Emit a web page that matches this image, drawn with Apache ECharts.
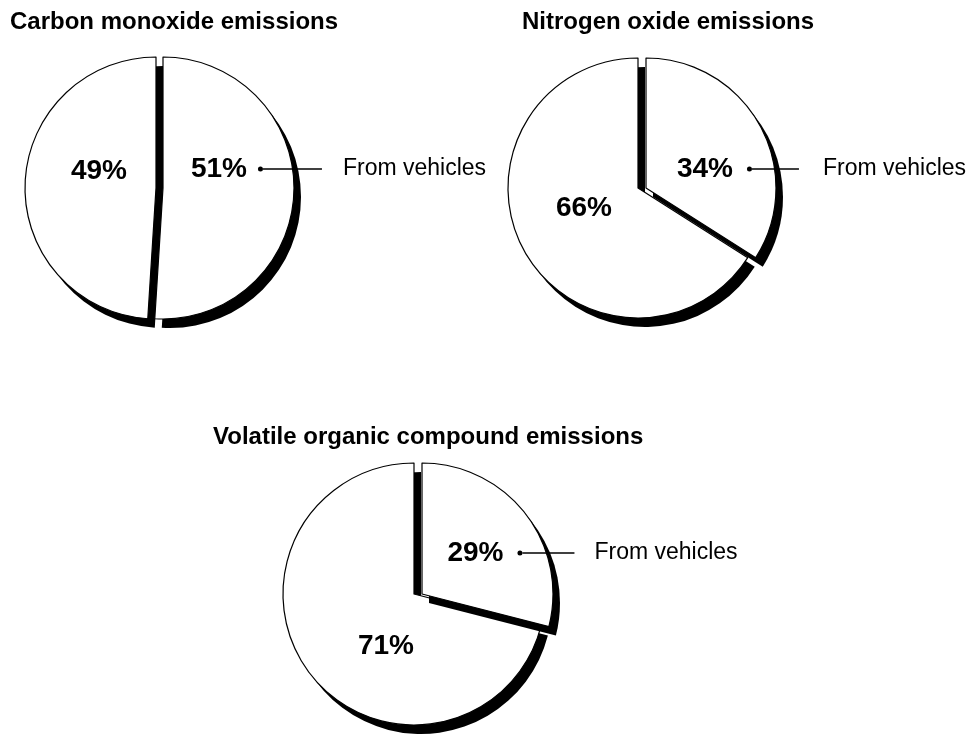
<!DOCTYPE html>
<html>
<head>
<meta charset="utf-8">
<script src="https://cdn.jsdelivr.net/npm/echarts@6/dist/echarts.min.js"></script>
<style>
  html, body { margin: 0; padding: 0; background: #fff; }
  #chart { width: 972px; height: 736px; }
</style>
</head>
<body>
<div id="chart"></div>
<script>
// ---- data ----
const chartTitles = ['Carbon monoxide emissions', 'Nitrogen oxide emissions', 'Volatile organic compound emissions'];
const vehicleShare = [51, 34, 29];
const otherShare = [49, 66, 71];
const vehicleLabel = 'From vehicles';

// ---- layout / style (not data) ----
const FONT = '"Liberation Sans", Arial, Helvetica, sans-serif';
const SHADOW_DX = 7, SHADOW_DY = 9;
const layouts = [
  { cx: 156, cy: 188, r: 131, explode: 7, titleLeft: 10, titleTop: 10,
    big: [-57, -17], veh: [175.5, -19], gap1: 11, line: 59, gap2: 21 },
  { cx: 638, cy: 188, r: 130, explode: 8, titleLeft: 522, titleTop: 10,
    big: [-54, 20], veh: [175.5, -19], gap1: 14, line: 47, gap2: 24 },
  { cx: 414, cy: 594, r: 131, explode: 8, titleLeft: 213, titleTop: 425,
    big: [-28, 52], veh: [170.5, -41], gap1: 14, line: 52, gap2: 20 }
];

const sliceStyle = { color: '#ffffff', borderColor: '#000000', borderWidth: 1.2 };
const shadowStyle = { color: '#000000', borderWidth: 0 };
const hiddenStyle = { color: 'rgba(0,0,0,0)', borderWidth: 0 };
const pctStyle = { fontFamily: FONT, fontWeight: 'bold', fontSize: 28, color: '#000' };

const series = [];
const titles = [];
layouts.forEach((L, i) => {
  titles.push({
    text: chartTitles[i], left: L.titleLeft, top: L.titleTop, padding: 0,
    textStyle: { fontFamily: FONT, fontWeight: 'bold', fontSize: 24, color: '#000' }
  });
  const common = {
    type: 'pie', radius: [0, L.r], startAngle: 90, clockwise: true,
    silent: true, animation: false, avoidLabelOverlap: false,
    emphasis: { disabled: true }, labelLine: { show: false }, label: { show: false }
  };
  // piece: 0 = vehicle slice, 1 = other slice
  function slice(piece, dx, dy, style, label, labelLayout) {
    const vals = [vehicleShare[i], otherShare[i]];
    return Object.assign({}, common, {
      center: [L.cx + dx, L.cy + dy],
      labelLayout: labelLayout || undefined,
      data: vals.map((v, k) => (k === piece
        ? { value: v, itemStyle: style, label: label || { show: false } }
        : { value: v, itemStyle: hiddenStyle, label: { show: false } }))
    });
  }
  const ex = L.explode;
  // other slice: shadow then face
  series.push(slice(1, SHADOW_DX, SHADOW_DY, shadowStyle));
  series.push(slice(1, 0, 0, sliceStyle,
    { show: true, position: 'center', formatter: otherShare[i] + '%', ...pctStyle },
    { dx: L.big[0], dy: L.big[1] }));
  // vehicle slice (pulled out to the right): shadow then face
  series.push(slice(0, ex + SHADOW_DX, SHADOW_DY, shadowStyle));
  series.push(slice(0, ex, 0, sliceStyle, {
      show: true, position: 'center',
      formatter: '{p|' + vehicleShare[i] + '%}{g1|}{d|}{l|}{g2|}{t|' + vehicleLabel + '}',
      rich: {
        p: pctStyle,
        g1: { width: L.gap1, height: 2 },
        d: { width: 5, height: 5, borderRadius: 2.5, backgroundColor: '#000' },
        l: { width: L.line, height: 1.3, backgroundColor: '#000' },
        g2: { width: L.gap2, height: 2 },
        t: { fontFamily: FONT, fontSize: 23, color: '#000' }
      }
    }, { dx: L.veh[0], dy: L.veh[1] }));
});

const chart = echarts.init(document.getElementById('chart'), null, { renderer: 'canvas' });
chart.setOption({
  backgroundColor: '#ffffff',
  animation: false,
  title: titles,
  tooltip: { show: false },
  series: series
});
</script>
</body>
</html>
